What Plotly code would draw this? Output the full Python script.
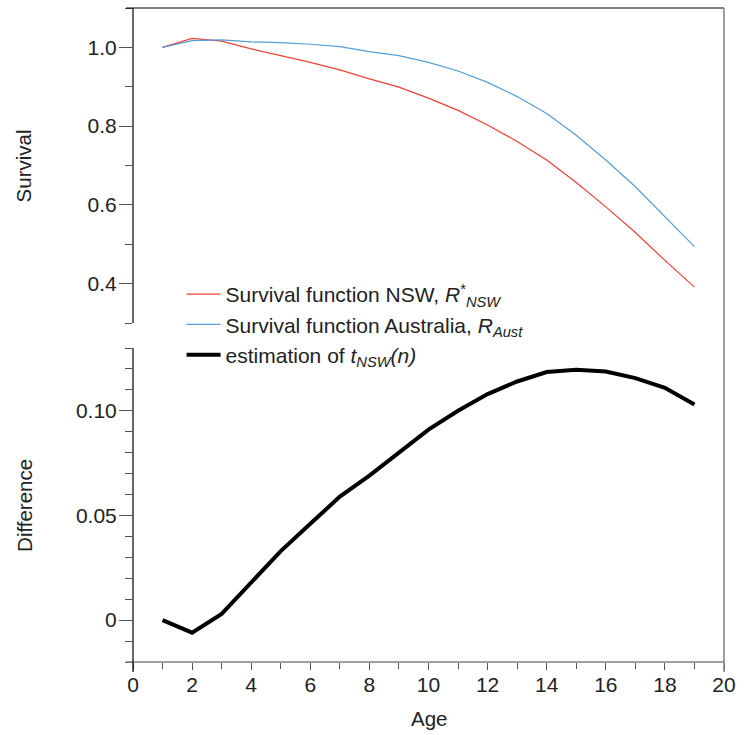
import plotly.graph_objects as go

age = list(range(1, 20))
surv_nsw = [1.000, 1.023, 1.016, 0.996, 0.979, 0.962, 0.943, 0.920, 0.899, 0.871,
            0.840, 0.803, 0.761, 0.714, 0.657, 0.595, 0.530, 0.459, 0.391]
surv_aust = [1.000, 1.017, 1.019, 1.014, 1.012, 1.008, 1.002, 0.989, 0.979, 0.962,
             0.940, 0.911, 0.875, 0.832, 0.777, 0.714, 0.646, 0.570, 0.494]
difference = [0.000, -0.006, 0.003, 0.018, 0.033, 0.046, 0.059, 0.069, 0.080, 0.091,
              0.100, 0.108, 0.114, 0.1185, 0.1196, 0.1188, 0.1156, 0.111, 0.103]

x_ticks = list(range(0, 21, 2))
y2_tickvals = [0, 0.05, 0.10]
y2_ticktext = ["0", "0.05", "0.10"]

RED = "#ef4136"
BLUE = "#539fd6"
FONT = "Liberation Sans, Arial, sans-serif"
TXT = "#222"

fig = go.Figure()
fig.add_trace(go.Scatter(x=age, y=surv_nsw, mode="lines", xaxis="x", yaxis="y",
                         line=dict(color=RED, width=1.2),
                         name="Survival function NSW, <i>R</i><sup>*</sup><sub><i>NSW</i></sub>"))
fig.add_trace(go.Scatter(x=age, y=surv_aust, mode="lines", xaxis="x", yaxis="y",
                         line=dict(color=BLUE, width=1.2),
                         name="Survival function Australia, <i>R<sub>Aust</sub></i>"))
fig.add_trace(go.Scatter(x=age, y=difference, mode="lines", xaxis="x2", yaxis="y2",
                         line=dict(color="black", width=4),
                         name="estimation of <i>t<sub>NSW</sub>(n)</i>"))

W, H = 744, 735
ml, mr, mt, mb = 133, 15, 8, 73
pw, ph = W - ml - mr, H - mt - mb
top_dom = [(H - mb - 323) / ph, 1.0]
bot_dom = [0.0, (H - mb - 348) / ph]

tickfont = dict(family=FONT, size=21, color=TXT)
titlefont = dict(family=FONT, size=20.5, color=TXT)

fig.update_layout(
    width=W, height=H,
    margin=dict(l=ml, r=mr, t=mt, b=mb),
    paper_bgcolor="white", plot_bgcolor="white",
    font=dict(family=FONT, size=21, color=TXT),
    showlegend=True,
    legend=dict(x=(182 - ml) / pw, y=(H - mb - 274) / ph, xanchor="left", yanchor="top",
                bgcolor="rgba(0,0,0,0)", font=dict(family=FONT, size=21, color=TXT),
                tracegroupgap=0, itemwidth=34),
    xaxis=dict(domain=[0, 1], anchor="y", range=[0, 20], showticklabels=False,
               showline=False, ticks="", showgrid=False, zeroline=False, matches="x2"),
    yaxis=dict(domain=top_dom, anchor="x", range=[0.3, 1.1], tick0=0.4, dtick=0.2,
               tickformat=".1f", ticks="outside", ticklen=13, tickcolor="#555", tickwidth=1,
               showline=False, showgrid=False, zeroline=False,
               tickfont=tickfont, ticklabelstandoff=-2,
               minor=dict(dtick=0.1, tick0=0.3, ticks="outside", ticklen=7, tickcolor="#555",
                          showgrid=False)),
    xaxis2=dict(domain=[0, 1], anchor="y2", range=[0, 20], tickvals=x_ticks,
                ticks="outside", ticklen=7, tickcolor="#555", tickwidth=1,
                showline=False, showgrid=False, zeroline=False, tickfont=tickfont,
                ticklabelstandoff=-3,
                minor=dict(dtick=1, tick0=0, ticks="outside", ticklen=6, tickcolor="#555",
                           showgrid=False)),
    yaxis2=dict(domain=bot_dom, anchor="x2", range=[-0.02, 0.13], tickvals=y2_tickvals,
                ticktext=y2_ticktext, ticks="outside", ticklen=13, tickcolor="#555", tickwidth=1,
                showline=False, showgrid=False, zeroline=False,
                tickfont=tickfont, ticklabelstandoff=-2,
                minor=dict(dtick=0.01, tick0=-0.02, ticks="outside", ticklen=7,
                           tickcolor="#555", showgrid=False)),
    shapes=[
        # frame top
        dict(type="line", xref="paper", yref="paper", x0=-7 / pw, x1=1, y0=1, y1=1,
             line=dict(color="black", width=1)),
        # frame right
        dict(type="line", xref="paper", yref="paper", x0=1, x1=1, y0=-10 / ph, y1=1,
             line=dict(color="#808080", width=1.5)),
        # bottom x axis line
        dict(type="line", xref="paper", yref="paper", x0=-7 / pw, x1=1, y0=0, y1=0,
             line=dict(color="#808080", width=1.5)),
        # top y axis line
        dict(type="line", xref="paper", yref="paper", x0=0, x1=0, y0=top_dom[0], y1=1,
             line=dict(color="black", width=1.2)),
        # bottom y axis line
        dict(type="line", xref="paper", yref="paper", x0=0, x1=0, y0=-10 / ph, y1=bot_dom[1],
             line=dict(color="black", width=1.2)),
    ],
    annotations=[
        dict(text="Survival", xref="paper", yref="paper", x=(23 - ml) / pw,
             y=sum(top_dom) / 2, textangle=-90, showarrow=False,
             xanchor="center", yanchor="middle", font=titlefont),
        dict(text="Difference", xref="paper", yref="paper", x=(23 - ml) / pw,
             y=sum(bot_dom) / 2, textangle=-90, showarrow=False,
             xanchor="center", yanchor="middle", font=titlefont),
        dict(text="Age", xref="paper", yref="paper", x=0.5, y=(H - mb - 718) / ph,
             showarrow=False, xanchor="center", yanchor="middle", font=titlefont),
    ],
)

fig.write_html("out.html")
